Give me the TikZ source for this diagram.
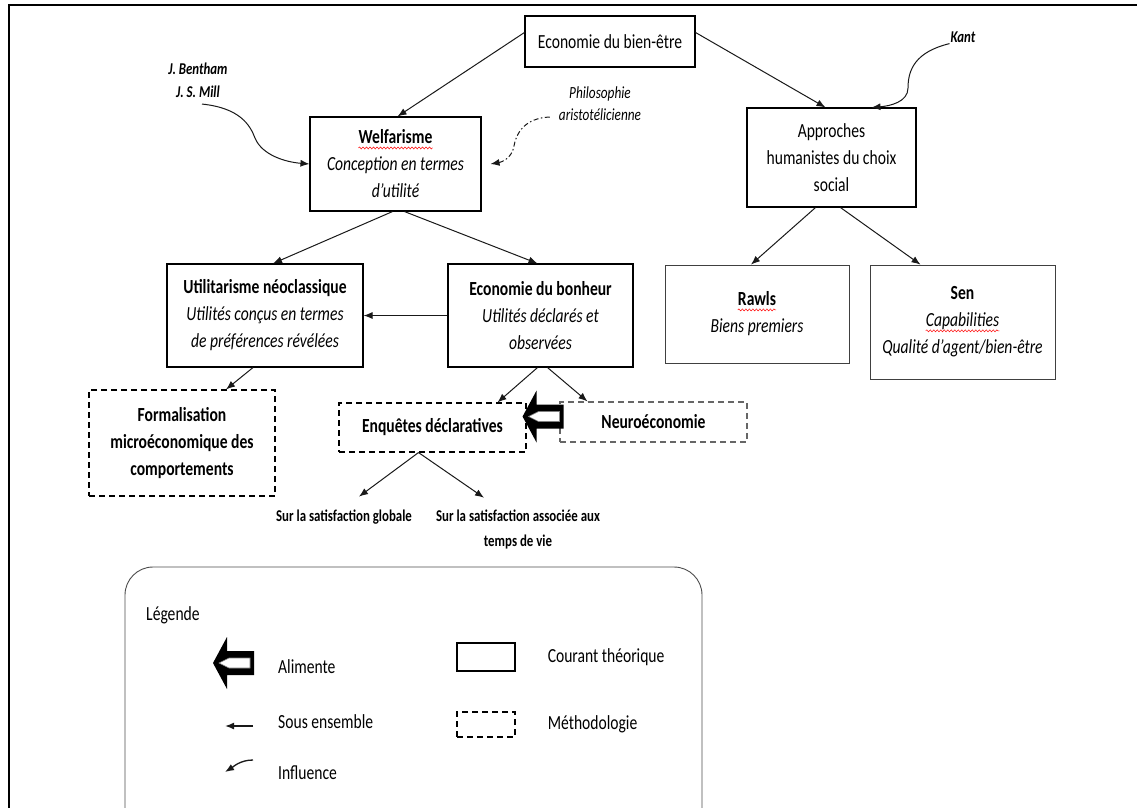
\documentclass[tikz,border=0pt]{standalone}
\usepackage{fontspec}
\setmainfont{Carlito}[FakeStretch=0.78]
\usetikzlibrary{arrows.meta,positioning,decorations.pathmorphing}
\newcommand{\spellwave}[1]{\tikz[baseline=(sw.base)]{%
    \node[draw=none, inner sep=0pt, minimum width=0pt, minimum height=0pt, align=left] (sw) {#1};
    \draw[red, solid, line width=0.5pt, decorate, decoration={snake, amplitude=1pt, segment length=3.5pt}]
        ([yshift=-4pt]sw.base west) -- ([yshift=-4pt]sw.base east);}}
% hollow block arrow, #1 = tip
\newcommand{\alimente}[1]{%
  \begin{scope}[shift={(#1)}]
    \fill[black] (0,0) -- (14,-26) -- (14,-12) -- (41,-12) -- (41,12) -- (14,12) -- (14,26) -- cycle;
    \filldraw[fill=white, draw=gray, line width=0.6pt] (6,0) -- (16,-5) -- (37,-5) -- (37,5) -- (16,5) -- cycle;
  \end{scope}}

\begin{document}
\begin{tikzpicture}[
    x=1pt, y=-1pt,
    node distance=30pt,
    >={Latex[length=9pt,width=7pt]},
    b/.style={
        draw,
        line width=1.1pt,
        align=center,
        inner sep=0pt,
        font=\fontsize{20}{27}\selectfont
    },
    m/.style={b, dash pattern=on 6pt off 4pt},
    lbl/.style={align=center, inner sep=1pt, font=\fontsize{16.5}{23}\selectfont\bfseries\itshape},
    lt/.style={anchor=west, inner sep=0pt, font=\fontsize{20}{24}\selectfont},
    lien/.style={->, line width=1pt, black!90}
]

\clip (0,0) rectangle (1137,807);
\draw[line width=2.5pt] (9,830) -- (9,5) -- (1160,5);

% theory boxes
\node[b, minimum width=170pt, minimum height=51pt] (eco) at (610,41.5) {Economie du bien-être};
\node[b, minimum width=171pt, minimum height=94pt] (wel) at (395.5,164) {
    \textbf{\spellwave{Welfarisme}}\\
    \textit{Conception en termes}\\
    \textit{d’utilité}
};
\node[b, minimum width=169pt, minimum height=99pt] (app) at (831.5,157.5) {
    Approches\\
    humanistes du choix\\
    social
};
\node[b, minimum width=196pt, minimum height=103pt] (util) at (265,315.5) {
    \textbf{Utilitarisme néoclassique}\\
    \textit{Utilités conçus en termes}\\
    \textit{de préférences révélées}
};
\node[b, minimum width=185pt, minimum height=103pt] (bon) at (540.5,315.5) {
    \textbf{Economie du bonheur}\\
    \textit{Utilités déclarés et}\\
    \textit{observées}
};
\node[b, draw=black!75, line width=0.8pt, minimum width=184pt, minimum height=98pt] (rawls) at (757,314) {
    \textbf{\spellwave{Rawls}}\\
    \textit{Biens premiers}
};
\node[b, draw=black!75, line width=0.8pt, minimum width=185pt, minimum height=114pt] (sen) at (962.5,322) {
    \textbf{Sen}\\
    \textit{\spellwave{Capabilities}}\\
    \textit{Qualité d’agent/bien-être}
};

% methodology boxes
\node[m, minimum width=186pt, minimum height=106pt] (form) at (182,443) {
    \textbf{Formalisation}\\
    \textbf{microéconomique des}\\
    \textbf{comportements}
};
\node[m, minimum width=187pt, minimum height=49pt] (enq) at (432.5,427.5) {\textbf{Enquêtes déclaratives}};
\node[m, draw=black!60, minimum width=187pt, minimum height=40pt] (neuro) at (653.5,422) {\textbf{Neuroéconomie}};

% authors and sub labels
\node[lbl] (ben) at (198,80.5) {J. Bentham\\J. S. Mill};
\node[lbl, font=\fontsize{17}{22}\selectfont\itshape] (phil) at (600,104) {Philosophie\\aristotélicienne};
\node[lbl] (kant) at (963,37) {Kant};
\node[lbl, font=\fontsize{16.5}{25}\selectfont\bfseries] (glob) at (344,517) {Sur la satisfaction globale};
\node[lbl, font=\fontsize{16.5}{25}\selectfont\bfseries] (temps) at (518,529.5) {Sur la satisfaction associée aux\\temps de vie};

% sub sets
\draw[lien] ([yshift=9pt]eco.west) -- ([xshift=2pt]wel.north);
\draw[lien] ([yshift=9pt]eco.east) -- ([xshift=-6pt]app.north);
\draw[lien] ([xshift=-3pt]wel.south) -- ([xshift=8pt]util.north);
\draw[lien] ([xshift=9pt]wel.south) -- ([xshift=-3pt]bon.north);
\draw[lien] (bon.west) -- (util.east);
\draw[lien] ([xshift=-16pt]app.south) -- ([xshift=-6pt]rawls.north);
\draw[lien] ([xshift=9pt]app.south) -- ([xshift=-42pt]sen.north);
\draw[lien] ([xshift=-12pt]util.south) -- ([xshift=44pt]form.north);
\draw[lien] ([xshift=-3pt]bon.south) -- ([xshift=65pt]enq.north);
\draw[lien] ([xshift=7pt]bon.south) -- ([xshift=-66pt]neuro.north);
\draw[lien] ([xshift=-14pt]enq.south) -- ([xshift=15pt,yshift=12pt]glob.north);
\draw[lien] ([xshift=-14pt]enq.south) -- ([xshift=-34pt,yshift=11pt]temps.north);

% influences
\draw[lien] ([xshift=4pt,yshift=-5pt]ben.south) .. controls (240,108) and (250,125) .. (255,138)
    .. controls (262,155) and (285,162) .. (wel.west);
\draw[lien, dash pattern=on 5pt off 2.5pt on 1.5pt off 2.5pt] ([xshift=-8pt,yshift=-13pt]phil.west)
    .. controls (525,118) and (516,133) .. (514,146)
    .. controls (512,158) and (502,162) .. ([xshift=9pt]wel.east);
\draw[lien] (kant.south west) .. controls (915,52) and (908,70) .. (908,88)
    .. controls (908,102) and (890,106) .. ([xshift=40pt]app.north);

% neuro feeds enquetes
\alimente{[xshift=-4pt,yshift=11pt]enq.east}

% legend
\draw[black!70, line width=0.9pt, rounded corners=28pt] (125,567) rectangle (702,850);
\node[lt] (leg) at (146,615) {Légende};

\alimente{213,663}
\coordinate (legalim) at (253,667);
\node[lt, right=25pt of legalim] (talim) {Alimente};

\coordinate (legsubA) at (253,726);
\coordinate (legsubB) at (225,726);
\draw[lien, line width=1.5pt] (legsubA) -- (legsubB);
\node[lt, right=25pt of legsubA, yshift=4pt] (tsub) {Sous ensemble};

\coordinate (leginfA) at (253,760);
\coordinate (leginfB) at (225,772);
\draw[lien, line width=1.3pt] (leginfA) .. controls (240,760) and (233,767) .. (leginfB);
\node[lt, right=25pt of leginfA, yshift=-13pt] (tinf) {Influence};

\node[b, minimum width=58pt, minimum height=28pt] (legcour) at (486,657) {};
\node[lt, right=32pt of legcour] (tcour) {Courant théorique};
\node[m, minimum width=58pt, minimum height=25pt] (legmeth) at (486,724.5) {};
\node[lt, right=32pt of legmeth] (tmeth) {Méthodologie};

\end{tikzpicture}
\end{document}
